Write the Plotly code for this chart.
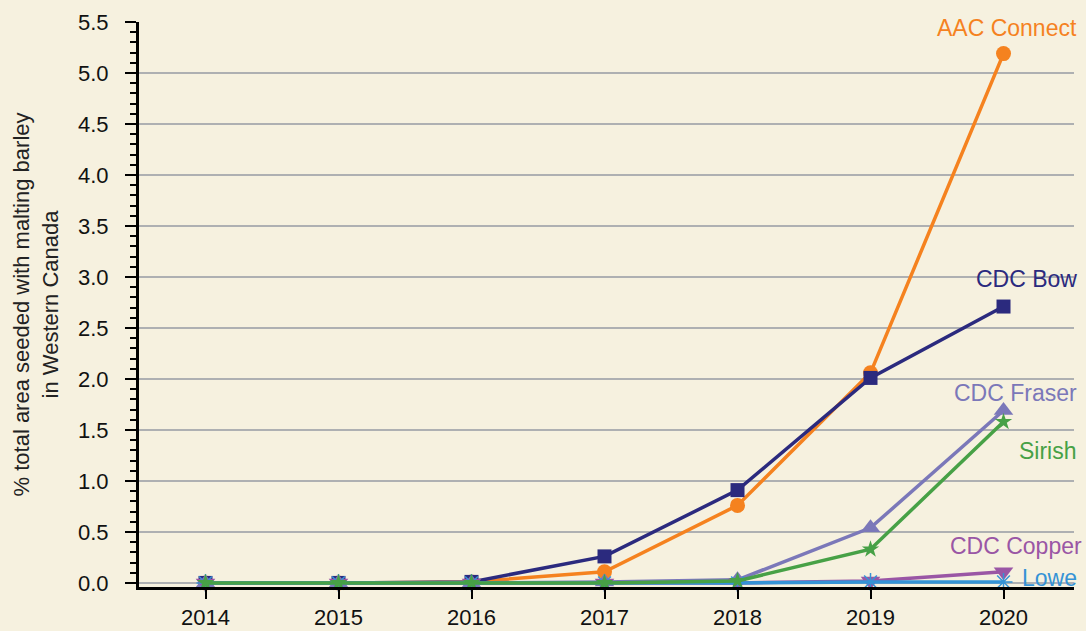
import plotly.graph_objects as go

years = [2014, 2015, 2016, 2017, 2018, 2019, 2020]
aac_connect = [0.0, 0.0, 0.01, 0.11, 0.76, 2.06, 5.19]
cdc_bow = [0.0, 0.0, 0.01, 0.26, 0.91, 2.01, 2.71]
cdc_fraser = [0.0, 0.0, 0.0, 0.01, 0.03, 0.54, 1.69]
sirish = [0.0, 0.0, 0.0, 0.0, 0.02, 0.33, 1.58]
cdc_copper = [0.0, 0.0, 0.0, 0.0, 0.0, 0.02, 0.11]
lowe = [0.0, 0.0, 0.0, 0.0, 0.0, 0.01, 0.01]

y_ticks = [0.0, 0.5, 1.0, 1.5, 2.0, 2.5, 3.0, 3.5, 4.0, 4.5, 5.0, 5.5]

series = [
    ("AAC Connect", aac_connect, "#F5821F", "circle", 15),
    ("CDC Bow", cdc_bow, "#2B2A7E", "square", 14),
    ("CDC Fraser", cdc_fraser, "#7B78B9", "triangle-up", 17),
    ("CDC Copper", cdc_copper, "#9A56A5", "triangle-down", 17),
    ("Lowe", lowe, "#3593D6", "asterisk-open", 15),
    ("Sirish", sirish, "#47A146", "star", 13),
]

fig = go.Figure()
for name, vals, color, sym, size in series:
    fig.add_trace(go.Scatter(
        x=years, y=vals, mode="lines+markers", name=name,
        line=dict(color=color, width=3.5),
        marker=dict(symbol=sym, size=size, color=color,
                    line=dict(color=color, width=1.5 if sym == "asterisk-open" else 0)),
        cliponaxis=False, showlegend=False,
    ))

labels = [
    ("AAC Connect", "#F5821F", 1078, 28),
    ("CDC Bow", "#2B2A7E", 1078, 279),
    ("CDC Fraser", "#7B78B9", 1078, 393),
    ("Sirish", "#47A146", 1078, 451),
    ("CDC Copper", "#9A56A5", 1083, 546),
    ("Lowe", "#3593D6", 1078, 578),
]
W, H = 1086, 631
L, R, T, B = 139, 12, 22, 44
for text, color, px, py in labels:
    fig.add_annotation(
        x=(px - L) / (W - L - R), y=1 - (py - T) / (H - T - B),
        xref="paper", yref="paper", text=text, showarrow=False,
        xanchor="right", yanchor="middle", borderpad=0,
        font=dict(size=23, color=color, family="Liberation Sans, Arial"),
    )

fig.update_layout(
    width=W, height=H,
    margin=dict(l=L, r=R, t=T, b=B, autoexpand=False),
    paper_bgcolor="#F6F1DF", plot_bgcolor="#F6F1DF",
    font=dict(family="Liberation Sans, Arial", size=22, color="#111111"),
    xaxis=dict(
        range=[2013.5, 2020.53], tickvals=years, ticktext=[str(y) for y in years],
        showgrid=False, zeroline=False, showline=True, linecolor="black", linewidth=3,
        ticks="outside", ticklen=9, tickwidth=2, tickcolor="black",
        tickfont=dict(size=22), automargin=False,
    ),
    yaxis=dict(
        range=[-0.04, 5.5], tickvals=y_ticks, ticktext=[f"{v:.1f}" for v in y_ticks],
        showgrid=True, gridcolor="#AEB0B2", gridwidth=1.5, zeroline=False,
        showline=True, linecolor="black", linewidth=3,
        ticks="outside", ticklen=11, tickwidth=2, tickcolor="black",
        tickfont=dict(size=22), ticklabelstandoff=12, automargin=False,
        minor=dict(dtick=0.1, tick0=0, ticks="outside", ticklen=6, tickwidth=2,
                   tickcolor="black", showgrid=False),
        title=dict(text="% total area seeded with malting barley<br>in Western Canada",
                   font=dict(size=22, color="#222222"), standoff=14),
    ),
)

fig.write_html("out.html", config={"displayModeBar": False},
               post_script="document.body.style.margin='0';document.body.style.padding='0';")
